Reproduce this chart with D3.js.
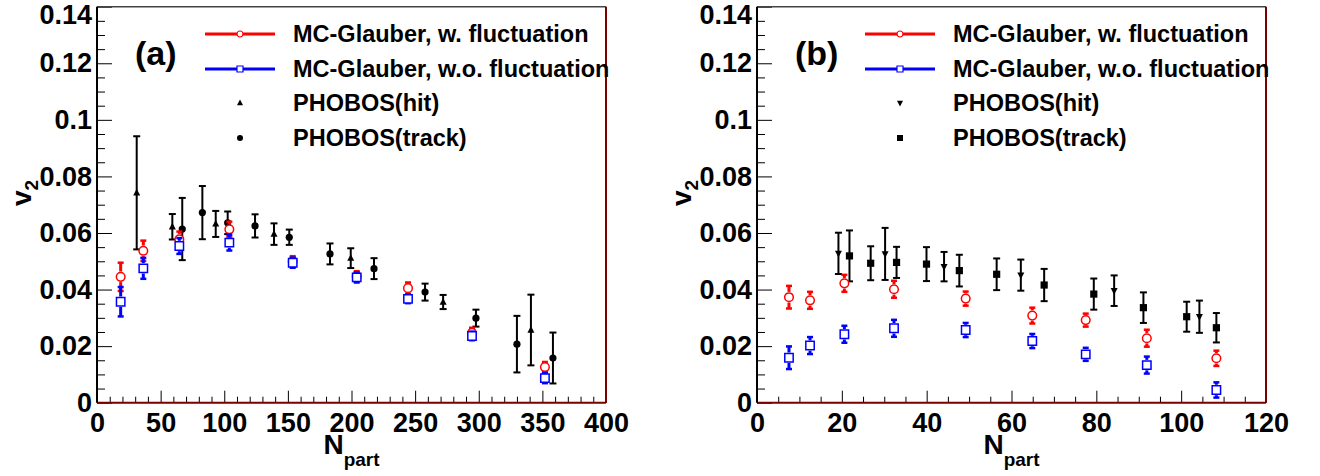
<!DOCTYPE html>
<html>
<head>
<meta charset="utf-8">
<script src="https://cdn.jsdelivr.net/npm/d3@7"></script>
<style>
  body { margin: 0; background: #fff; }
  text { font-family: "Liberation Sans", Arial, Helvetica, sans-serif; font-weight: bold; }
</style>
</head>
<body>
<script>
// --- Daten: Panel (a), Au+Au ---
const npartFlucA   = [18.6, 36.4, 64.7, 104, 153.8, 204.1, 244.4, 294.7, 352];
const v2FlucA      = [0.0445, 0.0537, 0.0578, 0.0613, 0.0500, 0.0447, 0.0405, 0.0247, 0.0126];
const errFlucA     = [0.005, 0.0036, 0.0027, 0.0027, 0.0018, 0.0018, 0.002, 0.0018, 0.0018];
const v2NoFlucA    = [0.0357, 0.0475, 0.0554, 0.0566, 0.0495, 0.0443, 0.0367, 0.0236, 0.0087];
const errNoFlucA   = [0.0052, 0.0037, 0.0028, 0.0028, 0.0018, 0.0018, 0.0015, 0.0015, 0.0018];

const npartHitA    = [31.2, 59.2, 93.3, 139.1, 199.4, 272, 341];
const v2HitA       = [0.0742, 0.0622, 0.0632, 0.0596, 0.0511, 0.0356, 0.0257];
const errHitA      = [0.02, 0.0045, 0.0046, 0.0038, 0.0035, 0.0025, 0.0125];

const npartTrackA  = [67, 82.8, 102.7, 124.2, 151.1, 183.1, 217.7, 257.8, 297.8, 330, 358.3];
const v2TrackA     = [0.0614, 0.0672, 0.0636, 0.0625, 0.0585, 0.0526, 0.0474, 0.0391, 0.0299, 0.0207, 0.0158];
const errTrackA    = [0.011, 0.0094, 0.004, 0.0041, 0.0027, 0.0037, 0.0037, 0.003, 0.003, 0.01, 0.009];

// --- Daten: Panel (b), Cu+Cu ---
const npartFlucB   = [7.54, 12.5, 20.6, 32.3, 49.2, 64.9, 77.5, 91.9, 108.3];
const v2FlucB      = [0.0373, 0.0362, 0.0422, 0.0401, 0.0368, 0.0308, 0.0292, 0.0228, 0.0157];
const errFlucB     = [0.004, 0.003, 0.003, 0.003, 0.0025, 0.0028, 0.0023, 0.003, 0.0027];
const v2NoFlucB    = [0.0159, 0.0202, 0.0242, 0.0263, 0.0257, 0.0218, 0.0171, 0.0133, 0.0045];
const errNoFlucB   = [0.004, 0.003, 0.003, 0.003, 0.0025, 0.0025, 0.0023, 0.003, 0.0027];

const npartHitB    = [19.2, 30.2, 44.1, 62.2, 84.2, 104.3];
const v2HitB       = [0.0528, 0.0526, 0.0481, 0.0451, 0.0396, 0.0304];
const errHitB      = [0.0073, 0.0092, 0.0052, 0.0055, 0.0054, 0.0057];

const npartTrackB  = [21.8, 26.8, 32.9, 39.96, 47.7, 56.5, 67.7, 79.4, 91.1, 101.3, 108.3];
const v2TrackB     = [0.0519, 0.0493, 0.0496, 0.049, 0.0467, 0.0454, 0.0416, 0.0384, 0.0336, 0.0304, 0.0265];
const errTrackB    = [0.009, 0.006, 0.0055, 0.006, 0.0056, 0.0056, 0.0057, 0.0055, 0.0054, 0.0053, 0.0052];

const legendLabels = ["MC-Glauber, w. fluctuation", "MC-Glauber, w.o. fluctuation", "PHOBOS(hit)", "PHOBOS(track)"];
const yTicks = [0, 0.02, 0.04, 0.06, 0.08, 0.1, 0.12, 0.14];

const svg = d3.select("body").append("svg").attr("width", 1320).attr("height", 476);

// Marker-Pfade
function markerPath(type, s) {
  if (type === "circle") return d3.symbol(d3.symbolCircle, Math.PI * s * s)();
  if (type === "square") return `M${-s},${-s}H${s}V${s}H${-s}Z`;
  if (type === "triUp") return `M0,${-s * 1.15}L${s},${s * 0.75}L${-s},${s * 0.75}Z`;
  if (type === "triDown") return `M0,${s * 1.15}L${s},${-s * 0.75}L${-s},${-s * 0.75}Z`;
}

function drawSeries(g, x, y, xs, ys, es, st) {
  const pts = xs.map((v, i) => ({ x: v, y: ys[i], e: es[i] }));
  const grp = g.append("g");
  pts.forEach(p => {
    const cx = x(p.x), cy = y(p.y), top = y(p.y + p.e), bot = y(p.y - p.e);
    const gap = st.open ? st.size + 1 : 0;
    grp.append("line").attr("x1", cx).attr("x2", cx).attr("y1", top).attr("y2", cy - gap)
      .attr("stroke", st.color).attr("stroke-width", st.barW);
    grp.append("line").attr("x1", cx).attr("x2", cx).attr("y1", cy + gap).attr("y2", bot)
      .attr("stroke", st.color).attr("stroke-width", st.barW);
    [top, bot].forEach(yy => grp.append("line")
      .attr("x1", cx - st.capW / 2).attr("x2", cx + st.capW / 2).attr("y1", yy).attr("y2", yy)
      .attr("stroke", st.color).attr("stroke-width", st.capT));
    grp.append("path").attr("d", markerPath(st.marker, st.size))
      .attr("transform", `translate(${cx},${cy})`)
      .attr("fill", st.open ? "#fff" : st.color)
      .attr("stroke", st.color).attr("stroke-width", st.open ? 1.5 : 0);
  });
}

function drawPanel(cfg) {
  const x = d3.scaleLinear().domain([0, cfg.xmax]).range([cfg.left, cfg.right]);
  const y = d3.scaleLinear().domain([0, 0.14]).range([402.7, 6.7]);
  const g = svg.append("g");

  // Achsen (Ticks nach innen)
  const xMajor = d3.range(0, cfg.xmax + 1e-9, cfg.xStep);
  const xMinor = d3.range(0, cfg.xmax + 1e-9, cfg.xMinor).filter(v => !xMajor.includes(v));
  g.append("g").attr("transform", "translate(0,402.7)")
    .call(d3.axisBottom(x).tickValues(xMinor).tickSize(-6).tickFormat(""))
    .call(a => a.select(".domain").remove());
  g.append("g").attr("transform", "translate(0,402.7)")
    .call(d3.axisBottom(x).tickValues(xMajor).tickSize(-12).tickPadding(10).tickFormat(d3.format("d")))
    .call(a => a.select(".domain").remove())
    .call(a => a.selectAll("text").attr("font-size", 27).attr("fill", "#000"));

  const yMinor = d3.range(0, 0.1400001, 0.005).filter(v => !yTicks.some(t => Math.abs(t - v) < 1e-9));
  g.append("g").attr("transform", `translate(${cfg.left},0)`)
    .call(d3.axisLeft(y).tickValues(yMinor).tickSize(-8).tickFormat(""))
    .call(a => a.select(".domain").remove());
  g.append("g").attr("transform", `translate(${cfg.left},0)`)
    .call(d3.axisLeft(y).tickValues(yTicks).tickSize(-15).tickPadding(5)
      .tickFormat(d => d === 0 ? "0" : d3.format(".2~f")(d)))
    .call(a => a.select(".domain").remove())
    .call(a => a.selectAll("text").attr("font-size", 27).attr("fill", "#000")
      .filter(d => d === 0.14).attr("dy", "0.62em"));

  // Rahmen
  g.append("line").attr("x1", cfg.left).attr("x2", cfg.right).attr("y1", 6.7).attr("y2", 6.7).attr("stroke", "#444").attr("stroke-width", 1.5);
  g.append("line").attr("x1", cfg.right).attr("x2", cfg.right).attr("y1", 6.7).attr("y2", 402.7).attr("stroke", "#7a0000").attr("stroke-width", 2);
  g.append("line").attr("x1", cfg.left).attr("x2", cfg.right).attr("y1", 402.7).attr("y2", 402.7).attr("stroke", "#7a0000").attr("stroke-width", 2);
  g.append("line").attr("x1", cfg.left).attr("x2", cfg.left).attr("y1", 6.7).attr("y2", 402.7).attr("stroke", "#000").attr("stroke-width", 2);

  // Achsentitel
  const xt = g.append("text").attr("x", (cfg.left + cfg.right) / 2).attr("y", 454).attr("text-anchor", "middle").attr("font-size", 28);
  xt.append("tspan").text("N");
  xt.append("tspan").attr("font-size", 19).attr("dy", 12).text("part");
  const yt = g.append("text").attr("transform", `translate(${cfg.left - 66},206) rotate(-90)`).attr("font-size", 28);
  yt.append("tspan").text("v");
  yt.append("tspan").attr("font-size", 19).attr("dy", 7).text("2");

  g.append("text").attr("x", cfg.left + 38).attr("y", 65).attr("font-size", 34).text(cfg.tag);

  // Daten
  const red = { color: "#ff0000", marker: "circle", open: true, size: 4.3, barW: 3, capW: 6, capT: 2.5 };
  const blue = { color: "#0000ff", marker: "square", open: true, size: 4.2, barW: 3, capW: 6, capT: 2.5 };
  drawSeries(g, x, y, cfg.hit[0], cfg.hit[1], cfg.hit[2], { color: "#000", marker: cfg.hitMarker, open: false, size: 3.5, barW: 2, capW: 7, capT: 2 });
  drawSeries(g, x, y, cfg.track[0], cfg.track[1], cfg.track[2], { color: "#000", marker: cfg.trackMarker, open: false, size: 3.6, barW: 2, capW: 7, capT: 2 });
  drawSeries(g, x, y, cfg.npart, cfg.fluc[0], cfg.fluc[1], red);
  drawSeries(g, x, y, cfg.npart, cfg.nofluc[0], cfg.nofluc[1], blue);

  // Legende
  const rows = [34, 69, 103, 138];
  const lx0 = cfg.left + 108, lx1 = cfg.left + 178, lm = (lx0 + lx1) / 2;
  [["#ff0000", "circle"], ["#0000ff", "square"]].forEach(([c, m], i) => {
    g.append("line").attr("x1", lx0).attr("x2", lx1).attr("y1", rows[i]).attr("y2", rows[i]).attr("stroke", c).attr("stroke-width", 3);
    g.append("path").attr("d", markerPath(m, 3)).attr("transform", `translate(${lm},${rows[i]})`)
      .attr("fill", "#fff").attr("stroke", c).attr("stroke-width", 1.2);
  });
  g.append("path").attr("d", markerPath(cfg.hitMarker, 3)).attr("transform", `translate(${lm},${rows[2]})`).attr("fill", "#000");
  g.append("path").attr("d", markerPath(cfg.trackMarker, 3)).attr("transform", `translate(${lm},${rows[3]})`).attr("fill", "#000");
  legendLabels.forEach((t, i) => g.append("text").attr("x", cfg.left + 196).attr("y", rows[i]).attr("dy", "0.35em")
    .attr("font-size", 23.5).text(t));
}

drawPanel({ left: 97, right: 606, xmax: 400, xStep: 50, xMinor: 10, tag: "(a)",
  npart: npartFlucA, fluc: [v2FlucA, errFlucA], nofluc: [v2NoFlucA, errNoFlucA],
  hit: [npartHitA, v2HitA, errHitA], track: [npartTrackA, v2TrackA, errTrackA],
  hitMarker: "triUp", trackMarker: "circle" });

drawPanel({ left: 757, right: 1266, xmax: 120, xStep: 20, xMinor: 5, tag: "(b)",
  npart: npartFlucB, fluc: [v2FlucB, errFlucB], nofluc: [v2NoFlucB, errNoFlucB],
  hit: [npartHitB, v2HitB, errHitB], track: [npartTrackB, v2TrackB, errTrackB],
  hitMarker: "triDown", trackMarker: "square" });
</script>
</body>
</html>
